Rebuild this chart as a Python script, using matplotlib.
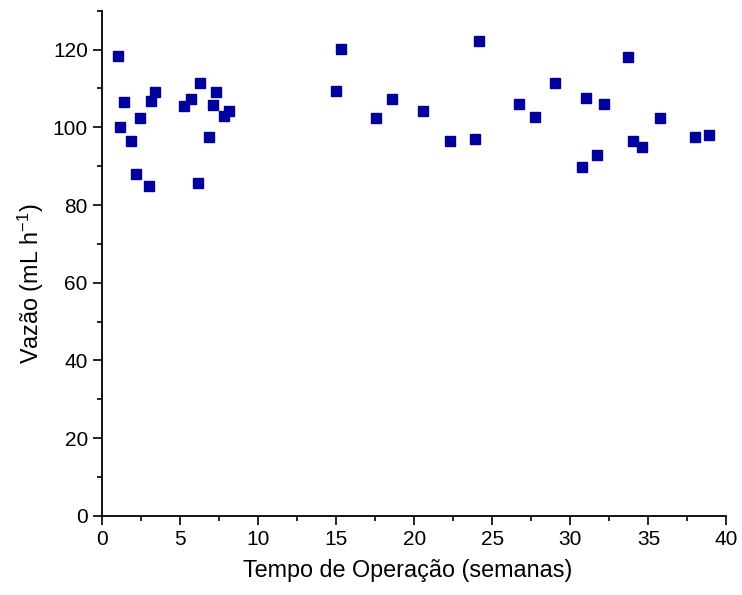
import matplotlib
matplotlib.use("Agg")
import matplotlib.pyplot as plt
from matplotlib.ticker import MultipleLocator

plt.rcParams['font.family'] = ['Liberation Sans', 'DejaVu Sans']
plt.rcParams['mathtext.fontset'] = 'custom'
plt.rcParams['mathtext.rm'] = 'Liberation Sans'

# semanas de operacao
semanas = [0.99, 1.13, 1.41, 1.84, 2.14, 2.42, 2.97, 3.14, 3.40,
           5.26, 5.71, 6.13, 6.28, 6.84, 7.12, 7.29, 7.82, 8.12,
           15.0, 15.28, 17.56, 18.57, 20.56, 22.29, 23.87, 24.15,
           26.71, 27.74, 29.02, 30.73, 31.0, 31.73, 32.16, 33.72,
           34.02, 34.6, 35.73, 38.0, 38.87]
# vazao (mL/h)
vazao = [118.3, 100.0, 106.5, 96.5, 88.0, 102.3, 85.0, 106.7, 109.0,
         105.4, 107.4, 85.6, 111.5, 97.5, 105.8, 109.0, 103.0, 104.3,
         109.3, 120.2, 102.5, 107.2, 104.3, 96.5, 96.9, 122.1,
         105.9, 102.6, 111.3, 89.7, 107.5, 92.8, 106.0, 118.1,
         96.5, 94.8, 102.3, 97.5, 98.0]

fig = plt.figure(figsize=(7.42, 5.95), dpi=100)
ax = fig.add_axes([0.138, 0.133, 0.841, 0.849])

ax.plot(semanas, vazao, linestyle='none', marker='s', markersize=7.5,
        color='#00009c', markeredgecolor='#00009c')

ax.set_xlim(0, 40)
ax.set_ylim(0, 130)
ax.xaxis.set_major_locator(MultipleLocator(5))
ax.xaxis.set_minor_locator(MultipleLocator(2.5))
ax.yaxis.set_major_locator(MultipleLocator(20))
ax.yaxis.set_minor_locator(MultipleLocator(10))

ax.spines['top'].set_visible(False)
ax.spines['right'].set_visible(False)
for s in ['left', 'bottom']:
    ax.spines[s].set_linewidth(1.3)

ax.tick_params(which='major', direction='out', length=6.5, width=1.2, labelsize=15, pad=4)
ax.tick_params(which='minor', direction='out', length=3.6, width=1.2)

ax.set_xlabel('Tempo de Operação (semanas)', fontsize=16.8)
ax.set_ylabel('Vazão (mL h$^{\\mathregular{-1}}$)', fontsize=16.8)
ax.xaxis.set_label_coords(0.49, -0.085)
ax.yaxis.set_label_coords(-0.09, 0.46)

fig.savefig('out.png', dpi=100)
